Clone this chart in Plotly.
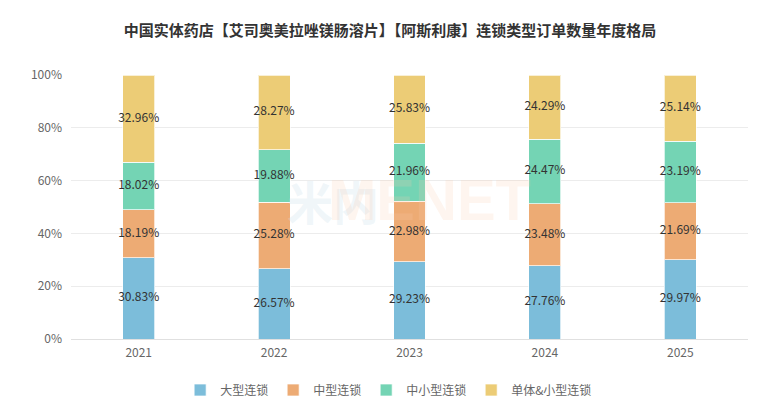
import plotly.graph_objects as go

years = ["2021", "2022", "2023", "2024", "2025"]
series_names = ["大型连锁", "中型连锁", "中小型连锁", "单体&小型连锁"]
large = [30.83, 26.57, 29.23, 27.76, 29.97]
medium = [18.19, 25.28, 22.98, 23.48, 21.69]
small_medium = [18.02, 19.88, 21.96, 24.47, 23.19]
single_small = [32.96, 28.27, 25.83, 24.29, 25.14]
colors = ["#7cbdda", "#edab74", "#74d4b4", "#eccc76"]
title = "中国实体药店【艾司奥美拉唑镁肠溶片】【阿斯利康】连锁类型订单数量年度格局"

FONT = "Noto Sans CJK SC, Microsoft YaHei, sans-serif"
series = [large, medium, small_medium, single_small]

fig = go.Figure()

# faint watermark
fig.add_annotation(x=0.316, y=0.527, xref="paper", yref="paper", text="<b>米内</b>",
                   showarrow=False, font=dict(family=FONT, size=46, color="rgba(205,225,235,0.3)"))
fig.add_annotation(x=0.53, y=0.527, xref="paper", yref="paper", text="<b>MENET</b>",
                   showarrow=False, font=dict(family="Liberation Sans", size=58, color="rgba(250,205,175,0.2)"))

for name, vals, c in zip(series_names, series, colors):
    fig.add_trace(go.Bar(
        x=years, y=vals, name=name,
        marker=dict(color=c, line=dict(color="rgba(255,255,255,0.7)", width=1)),
        hoverinfo="skip",
    ))

# labels at segment centers
base = [0.0] * len(years)
for vals in series:
    mids = [b + v / 2 for b, v in zip(base, vals)]
    fig.add_trace(go.Scatter(
        x=years, y=mids, mode="text",
        text=[f"{v:.2f}%" for v in vals],
        textfont=dict(family=FONT, size=12, color="#333333"),
        showlegend=False, hoverinfo="skip",
    ))
    base = [b + v for b, v in zip(base, vals)]

fig.update_layout(
    barmode="stack",
    bargap=0.764,
    width=780, height=400,
    margin=dict(l=63, r=40, t=67, b=69, autoexpand=False),
    paper_bgcolor="white", plot_bgcolor="white",
    font=dict(family=FONT, color="#666666", size=12),
    title=dict(text=f"<b>{title}</b>", x=0.4897, xanchor="center", y=0.9425, yanchor="middle",
               font=dict(family=FONT, size=15, color="#333333")),
    legend=dict(orientation="h", x=0.488, xref="container", xanchor="center",
                y=0.045, yref="container", yanchor="middle",
                font=dict(family=FONT, size=12, color="#666666"), itemwidth=30,
                traceorder="normal"),
    xaxis=dict(type="category", showgrid=False, showline=True, linecolor="#e0e0e0",
               ticks="", tickfont=dict(size=12, color="#666666"), ticklabelstandoff=3),
    yaxis=dict(range=[0, 100], dtick=20, ticksuffix="%", showgrid=True, gridcolor="#ececec",
               zeroline=False, showline=False, tickfont=dict(size=12, color="#666666"),
               ticklabelstandoff=8),
)

fig.write_html("out.html")
